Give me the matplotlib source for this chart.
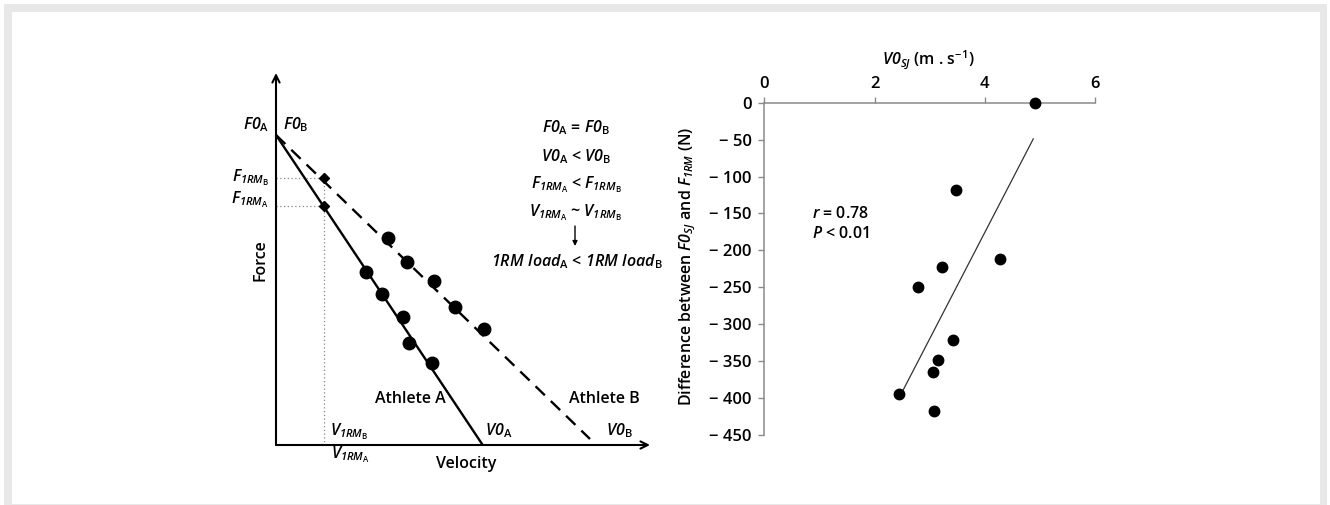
import matplotlib
matplotlib.use("Agg")
import matplotlib.pyplot as plt
from matplotlib.patches import Rectangle

plt.rcParams['font.family'] = ['Open Sans', 'DejaVu Sans']
plt.rcParams['font.weight'] = 600
plt.rcParams['mathtext.fontset'] = 'custom'
plt.rcParams['mathtext.rm'] = 'Open Sans:italic:semibold'
plt.rcParams['mathtext.it'] = 'Open Sans:italic:semibold'
plt.rcParams['mathtext.sf'] = 'Open Sans:semibold'
plt.rcParams['mathtext.bf'] = 'Open Sans:bold'

# ---------------- Left panel (schematic force-velocity profiles) ----------------
F0 = 310
V0_A = 206.7
lineA_v = [0, V0_A]
lineA_f = [F0, 0]
lineB_v = [0, 314]
lineB_f = [F0, 6]
dotsA_v = [89.7, 106.3, 127.3, 133.3, 156.3]
dotsA_f = [172.7, 150.7, 128.3, 102.3, 81.7]
dotsB_v = [112.3, 131.3, 158.0, 179.0, 208.3]
dotsB_f = [207.3, 183.0, 164.3, 138.3, 115.7]
V1RM = 48.3
F1RM_A = 239.3
F1RM_B = 267.3

# ---------------- Right panel (scatter) ----------------
v0_sj = [4.91, 3.47, 4.27, 3.23, 2.78, 3.43, 3.15, 3.06, 2.44, 3.08]
diff_f = [0, -118, -211, -222, -250, -322, -349, -365, -394, -417]
fit_x = [2.52, 4.88]
fit_y = [-389, -49]
xticks_r = [0, 2, 4, 6]
yticks_r = [0, -50, -100, -150, -200, -250, -300, -350, -400, -450]

W, H = 1330, 505
fig = plt.figure(figsize=(W / 100, H / 100), dpi=100)
fig.patch.set_facecolor('white')

# frame
fig.patches.append(Rectangle((4 / W, 0), (1327 - 4) / W, (H - 4) / H, transform=fig.transFigure,
                             facecolor='#e8e8e8', edgecolor='none', zorder=-10))
fig.patches.append(Rectangle((12 / W, 1 / H), (1320 - 12) / W, (H - 12 - 1) / H, transform=fig.transFigure,
                             facecolor='white', edgecolor='none', zorder=-9))

# ---- left axes: 1 data unit = 1 pixel, origin at pixel (276, 445)
ox, oy = 276, 445
axL = fig.add_axes([ox / W, 1 - oy / H, 380 / W, 380 / H])
axL.set_zorder(5)
axL.set_xlim(0, 380)
axL.set_ylim(0, 380)
axL.axis('off')
axL.patch.set_alpha(0)

arrow_kw = dict(arrowstyle='->', lw=1.5, color='black', mutation_scale=13, shrinkA=0, shrinkB=0)
axL.annotate('', xy=(0, 372), xytext=(0, 0), arrowprops=arrow_kw, annotation_clip=False)
axL.annotate('', xy=(374, 0), xytext=(0, 0), arrowprops=arrow_kw, annotation_clip=False)

axL.plot(lineA_v, lineA_f, color='black', lw=1.7, solid_capstyle='butt')
axL.plot(lineB_v, lineB_f, color='black', lw=1.7, ls=(0, (5.5, 3.5)))
axL.plot(dotsA_v, dotsA_f, 'o', color='black', ms=9, ls='none')
axL.plot(dotsB_v, dotsB_f, 'o', color='black', ms=9, ls='none')

dot_kw = dict(color='#888888', lw=0.9, ls=(0, (1, 2)))
axL.plot([0, V1RM], [F1RM_B, F1RM_B], **dot_kw)
axL.plot([0, V1RM], [F1RM_A, F1RM_A], **dot_kw)
axL.plot([V1RM, V1RM], [F1RM_B, 0], **dot_kw)
axL.plot([V1RM, V1RM], [F1RM_A, F1RM_B], 'D', color='black', ms=5.5, ls='none')

fs = 11.5
tk = dict(fontsize=fs, color='black', clip_on=False)
axL.text(-7, 316, r'$F0_{\mathsf{A}}$', ha='right', va='baseline', **tk)
axL.text(7, 316, r'$F0_{\mathsf{B}}$', ha='left', va='baseline', **tk)
axL.text(-7, 263.5, r'$F_{1RM_{\mathsf{B}}}$', ha='right', va='baseline', **tk)
axL.text(-7, 242, r'$F_{1RM_{\mathsf{A}}}$', ha='right', va='baseline', **tk)
axL.text(54, 10, r'$V_{1RM_{\mathsf{B}}}$', ha='left', va='baseline', **tk)
axL.text(55, -13.5, r'$V_{1RM_{\mathsf{A}}}$', ha='left', va='baseline', **tk)
axL.text(209, 10, r'$V0_{\mathsf{A}}$', ha='left', va='baseline', **tk)
axL.text(330, 10, r'$V0_{\mathsf{B}}$', ha='left', va='baseline', **tk)
axL.text(99, 41.7, 'Athlete A', ha='left', va='baseline', **tk)
axL.text(293, 41.7, 'Athlete B', ha='left', va='baseline', **tk)
axL.text(189.7, -23, 'Velocity', ha='center', va='baseline', **tk)
axL.text(-16, 185, 'Force', ha='center', va='center', rotation=90, **tk)

cx = 300
axL.text(cx, 312.3, r'$F0_{\mathsf{A}}$ = $F0_{\mathsf{B}}$', ha='center', va='baseline', **tk)
axL.text(cx, 284, r'$V0_{\mathsf{A}}$ < $V0_{\mathsf{B}}$', ha='center', va='baseline', **tk)
axL.text(cx, 256.7, r'$F_{1RM_{\mathsf{A}}}$ < $F_{1RM_{\mathsf{B}}}$', ha='center', va='baseline', **tk)
axL.text(cx, 229, r'$V_{1RM_{\mathsf{A}}}$ ~ $V_{1RM_{\mathsf{B}}}$', ha='center', va='baseline', **tk)
axL.annotate('', xy=(299, 199), xytext=(299, 219),
             arrowprops=dict(arrowstyle='-|>', lw=1.0, color='black', mutation_scale=7, shrinkA=0, shrinkB=0),
             annotation_clip=False)
axL.text(cx + 0.7, 179, r'$1RM\ load_{\mathsf{A}}$ < $1RM\ load_{\mathsf{B}}$',
         ha='center', va='baseline', **tk)

# ---- right axes
x0, x1 = 764.3, 1095.0
y0, y1 = 102.7, 435.0
axR = fig.add_axes([x0 / W, 1 - y1 / H, (x1 - x0) / W, (y1 - y0) / H])
axR.set_zorder(5)
axR.patch.set_alpha(0)
axR.set_xlim(0, 6)
axR.set_ylim(-450, 0)
for s in ['right', 'bottom']:
    axR.spines[s].set_visible(False)
for s in ['top', 'left']:
    axR.spines[s].set_color('#8a8a8a')
    axR.spines[s].set_linewidth(1.1)
axR.xaxis.tick_top()
axR.set_xticks(xticks_r)
axR.set_xticklabels([str(v) for v in xticks_r])
axR.set_yticks(yticks_r)
axR.set_yticklabels([('\u2212 ' + str(-v)) if v < 0 else str(v) for v in yticks_r])
axR.tick_params(axis='both', direction='out', length=4, width=1.0, color='#8a8a8a',
                labelsize=12, labelcolor='black')
axR.tick_params(axis='x', pad=4)
axR.tick_params(axis='y', pad=5)

axR.plot(fit_x, fit_y, color='#333333', lw=0.9)
axR.plot(v0_sj, diff_f, 'o', color='black', ms=7.5, ls='none', clip_on=False, zorder=5)

axR.text(0.86, -156.5, r'$r$ = 0.78', ha='left', va='baseline', fontsize=11.5)
axR.text(0.86, -183.6, r'$P$ < 0.01', ha='left', va='baseline', fontsize=11.5)

axR.text(0.496, 1.113, r'$V0_{SJ}$ (m . s$^{\mathsf{-1}}$)', transform=axR.transAxes,
         ha='center', va='baseline', fontsize=11.5)
axR.text((688 - x0) / (x1 - x0), (y1 - 266.7) / (y1 - y0),
         r'Difference between $F0_{SJ}$ and $F_{1RM}$ (N)',
         transform=axR.transAxes, rotation=90, ha='center', va='center', fontsize=11.5)

fig.savefig('out.png', dpi=100, facecolor='white')
